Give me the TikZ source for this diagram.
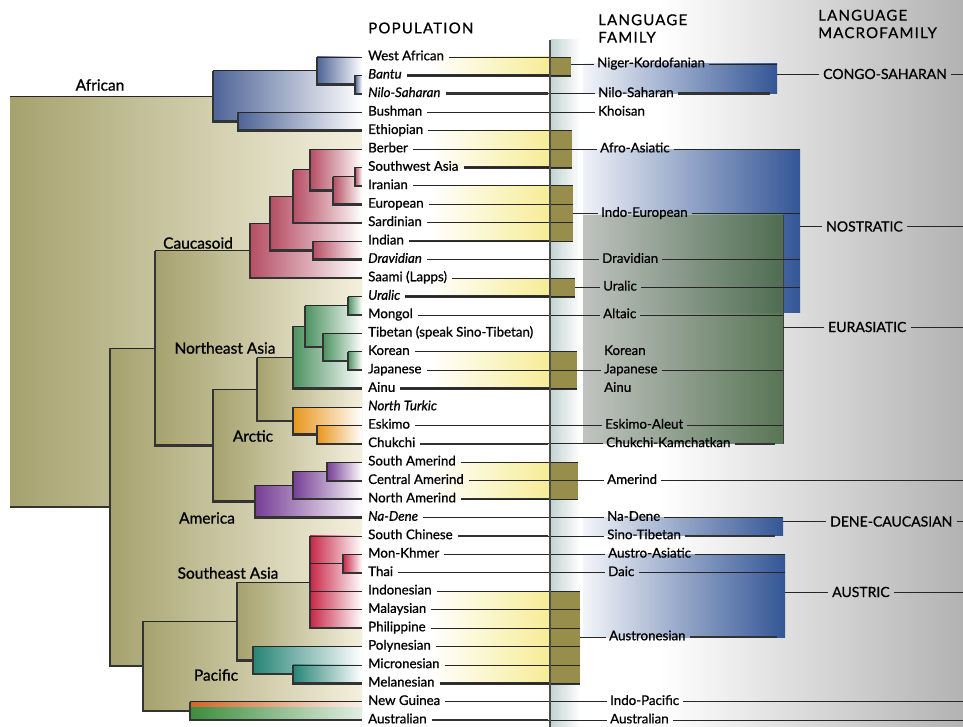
\documentclass[tikz,border=0pt]{standalone}
\usepackage{fontspec}
\setmainfont{Lato}[FakeBold=0.8]
\newfontfamily\hdf{Lato}[LetterSpace=8,FakeBold=0.6]
\newfontfamily\grf{Lato}[FakeBold=1.0]
\usetikzlibrary{calc}
\definecolor{olv}{RGB}{166,162,110}
\definecolor{cream}{RGB}{244,240,222}
\definecolor{afb}{RGB}{78,100,150}
\definecolor{cpk}{RGB}{182,78,100}
\definecolor{neg}{RGB}{76,146,96}
\definecolor{aro}{RGB}{232,150,28}
\definecolor{amp}{RGB}{118,62,148}
\definecolor{sar}{RGB}{200,38,70}
\definecolor{pct}{RGB}{38,132,118}
\definecolor{ngo}{RGB}{210,100,40}
\definecolor{aug}{RGB}{60,140,60}
\definecolor{fy}{RGB}{246,236,150}
\definecolor{fbox}{RGB}{150,142,74}
\definecolor{mblue}{RGB}{52,86,150}
\definecolor{mgreen}{RGB}{100,138,96}
\definecolor{foldc}{RGB}{196,212,210}
\newcommand\trbox[7][white]{%
  \fill[left color=#5, right color=#1] (#2,#3) rectangle (362,#4);
  \draw[thn] (#2,#3) -- (#6,#3);
  \draw[edg] (#2,#3) -- (#2,#4) -- (#7,#4);
}
\begin{document}
\begin{tikzpicture}[x=1pt,y=-1pt,
  thn/.style={line width=0.8pt, black!85},
  thk/.style={line width=2.6pt, black!80},
  edg/.style={line width=2.4pt, black!80},
  pl/.style={anchor=west, inner sep=0pt, text height=9pt, text depth=2.5pt, font=\fontsize{13.3}{15}\selectfont},
  pli/.style={pl, font=\fontsize{13.3}{15}\selectfont\itshape},
  gl/.style={inner sep=0pt, font=\grf\fontsize{15.5}{18}\selectfont},
  ml/.style={anchor=west, inner sep=0pt, text height=10pt, text depth=0pt, font=\fontsize{14}{16}\selectfont},
  hd/.style={anchor=west, align=left, inner sep=0pt, font=\hdf\fontsize{15}{17.5}\selectfont}]
\useasboundingbox (0,0) rectangle (963,727);
% background
\fill[white] (0,0) rectangle (963,727);
\fill[left color=white, right color=black!30] (660,0) rectangle (963,727);
\fill[left color=foldc, right color=white] (551,40) rectangle (580,727);

% ---------- tree ----------
\fill[left color=olv, right color=cream] (10,96.2) rectangle (362,507.0);
\draw[thn] (10,96.2) -- (213,96.2);
\draw[edg] (10,507.0) -- (110,507.0);
% African
\trbox{213}{70.8}{121.5}{afb}{317}{238}
\trbox{317}{57}{84.6}{afb}{362}{355}
\trbox{355}{75.4}{93.8}{afb}{362}{362}
\trbox{238}{112.3}{130.7}{afb}{362}{362}
% non-African
\trbox[cream]{110}{348.0}{666.0}{olv}{155}{143}
\trbox[cream]{155}{250.7}{445.3}{olv}{250}{213}
% Caucasoid
\trbox{250}{223.3}{278.0}{cpk}{270}{362}
\trbox{270}{196.3}{250.4}{cpk}{293}{313}
\trbox{293}{169.8}{222.8}{cpk}{310}{362}
\trbox{310}{149.1}{190.5}{cpk}{362}{333}
\trbox{333}{176.7}{204.4}{cpk}{355}{362}
\trbox{355}{167.5}{185.9}{cpk}{362}{362}
\trbox{313}{241.2}{259.6}{cpk}{362}{362}
% NE Asia / Arctic / America
\trbox[cream]{213}{389.2}{501.4}{olv}{257}{255}
\trbox[cream]{257}{357.5}{420.8}{olv}{293}{293}
\trbox{293}{326.4}{388.6}{neg}{305}{362}
\trbox{305}{305.7}{347.1}{neg}{348}{323}
\trbox{348}{296.5}{314.9}{neg}{362}{362}
\trbox{323}{333.3}{360.9}{neg}{362}{348}
\trbox{348}{351.7}{370.1}{neg}{362}{362}
\trbox{293}{407.0}{434.6}{aro}{362}{317}
\trbox{317}{425.4}{443.8}{aro}{362}{362}
\trbox{255}{485.3}{517.5}{amp}{293}{362}
\trbox{293}{471.4}{499.1}{amp}{327}{362}
\trbox{327}{462.2}{480.7}{amp}{362}{362}
% SE Asia / Pacific / New Guinea
\trbox[cream]{143}{621.1}{710.9}{olv}{237}{190}
\trbox[cream]{237}{582.0}{660.3}{olv}{310}{253}
\trbox{310}{535.9}{628.0}{sar}{362}{362}
\draw[thn] (310,563.5) -- (343,563.5);
\draw[thn] (310,591.2) -- (362,591.2);
\draw[thn] (310,609.6) -- (362,609.6);
\trbox{343}{554.3}{572.8}{sar}{362}{362}
\trbox{253}{646.4}{674.1}{pct}{362}{293}
\trbox{293}{664.9}{683.3}{pct}{362}{362}
\fill[left color=ngo, right color=ngo!10] (190,701.7) rectangle (362,707.5);
\fill[left color=aug, right color=aug!15] (190,707.5) rectangle (362,720.1);
\draw[thn] (190,701.7) -- (362,701.7);
\draw[edg] (190,701.7) -- (190,720.1) -- (362,720.1);

% group labels
\node[gl] (gAf) at (100,85) {African};
\node[gl] (gCa) at (198,243) {Caucasoid};
\node[gl] (gNE) at (225,348) {Northeast Asia};
\node[gl] (gAr) at (253,436) {Arctic};
\node[gl] (gAm) at (207,518) {America};
\node[gl] (gSE) at (228,573) {Southeast Asia};
\node[gl] (gPa) at (216,675) {Pacific};

% ---------- family bars ----------
\foreach \t/\b in {57/75.4, 130.7/167.5, 185.9/241.2, 278.0/296.5, 351.7/388.6, 462.2/499.1, 591.2/683.3}
  \fill[left color=white, right color=fy] (430,\t) rectangle (550,\b);
\coordinate (NK) at (571,64);
\coordinate (AA) at (572,149.1);
\coordinate (IE) at (573,213.6);
\coordinate (UR) at (575,287.3);
\coordinate (KJ) at (577,370.1);
\coordinate (AM) at (578,480.7);
\coordinate (AN) at (580,637);
\coordinate (FOLD) at (548,0);
\coordinate (RE) at (963,0);

% ---------- macro boxes ----------
\fill[left color=mblue!6, right color=mblue] (583,64) rectangle (777,93.8);
\fill[left color=mblue!8, right color=mblue] (583,149.1) rectangle (800,312);
\fill[left color=mgreen!12, right color=mgreen, opacity=0.75] (583,215) rectangle (783,443.8);
\fill[left color=mblue!6, right color=mblue] (583,517.5) rectangle (783,535.9);
\fill[left color=mblue!6, right color=mblue] (583,554.3) rectangle (785,637);
\draw[line width=1pt, black!75] (783,215) -- (783,443.8);
\coordinate (CSr) at (777,74);
\coordinate (NOr) at (800,226.5);
\coordinate (EUr) at (783,327);
\coordinate (DCr) at (783,521.5);
\coordinate (AUr) at (785,592);
\coordinate (CSb) at (770,0);
\coordinate (EUb) at (775,0);
\coordinate (DCb) at (775,0);
\coordinate (AUb) at (777,0);

% ---------- headers ----------
\node[hd] (hPOP) at (368,28) {POPULATION};
\node[hd] (hLF) at (598,28.5) {LANGUAGE\\FAMILY};
\node[hd] (hLM) at (818,24) {LANGUAGE\\MACROFAMILY};

% ---------- population labels ----------
\node[pl] (p0) at (368,57.0) {West African};
\node[pli] (p1) at (368,75.4) {Bantu};
\node[pli] (p2) at (368,93.8) {Nilo-Saharan};
\node[pl] (p3) at (368,112.3) {Bushman};
\node[pl] (p4) at (368,130.7) {Ethiopian};
\node[pl] (p5) at (368,149.1) {Berber};
\node[pl] (p6) at (368,167.5) {Southwest Asia};
\node[pl] (p7) at (368,185.9) {Iranian};
\node[pl] (p8) at (368,204.4) {European};
\node[pl] (p9) at (368,222.8) {Sardinian};
\node[pl] (p10) at (368,241.2) {Indian};
\node[pli] (p11) at (368,259.6) {Dravidian};
\node[pl] (p12) at (368,278.0) {Saami (Lapps)};
\node[pli] (p13) at (368,296.5) {Uralic};
\node[pl] (p14) at (368,314.9) {Mongol};
\node[pl] (p15) at (368,333.3) {Tibetan (speak Sino-Tibetan)};
\node[pl] (p16) at (368,351.7) {Korean};
\node[pl] (p17) at (368,370.1) {Japanese};
\node[pl] (p18) at (368,388.6) {Ainu};
\node[pli] (p19) at (368,407.0) {North Turkic};
\node[pl] (p20) at (368,425.4) {Eskimo};
\node[pl] (p21) at (368,443.8) {Chukchi};
\node[pl] (p22) at (368,462.2) {South Amerind};
\node[pl] (p23) at (368,480.7) {Central Amerind};
\node[pl] (p24) at (368,499.1) {North Amerind};
\node[pli] (p25) at (368,517.5) {Na-Dene};
\node[pl] (p26) at (368,535.9) {South Chinese};
\node[pl] (p27) at (368,554.3) {Mon-Khmer};
\node[pl] (p28) at (368,572.8) {Thai};
\node[pl] (p29) at (368,591.2) {Indonesian};
\node[pl] (p30) at (368,609.6) {Malaysian};
\node[pl] (p31) at (368,628.0) {Philippine};
\node[pl] (p32) at (368,646.4) {Polynesian};
\node[pl] (p33) at (368,664.9) {Micronesian};
\node[pl] (p34) at (368,683.3) {Melanesian};
\node[pl] (p35) at (368,701.7) {New Guinea};
\node[pl] (p36) at (368,720.1) {Australian};

% ---------- family labels ----------
\node[pl] (fNK) at (597,64) {Niger-Kordofanian};
\node[pl] (fNS) at (598,93.8) {Nilo-Saharan};
\node[pl] (fKH) at (598,112.3) {Khoisan};
\node[pl] (fAA) at (600,149.1) {Afro-Asiatic};
\node[pl] (fIE) at (601,213.6) {Indo-European};
\node[pl] (fDR) at (602,259.6) {Dravidian};
\node[pl] (fUR) at (603,287.3) {Uralic};
\node[pl] (fAL) at (603,314.9) {Altaic};
\node[pl] (fKO) at (604,351.7) {Korean};
\node[pl] (fJA) at (604,370.1) {Japanese};
\node[pl] (fAI) at (604,388.6) {Ainu};
\node[pl] (fEA) at (605,425.4) {Eskimo-Aleut};
\node[pl] (fCK) at (606,443.8) {Chukchi-Kamchatkan};
\node[pl] (fAM) at (607,480.7) {Amerind};
\node[pl] (fND) at (607,517.5) {Na-Dene};
\node[pl] (fST) at (607,535.9) {Sino-Tibetan};
\node[pl] (fAS) at (608,554.3) {Austro-Asiatic};
\node[pl] (fDA) at (608,572.8) {Daic};
\node[pl] (fAN) at (609,637) {Austronesian};
\node[pl] (fIP) at (610,701.7) {Indo-Pacific};
\node[pl] (fAUS) at (610,720.1) {Australian};

% ---------- macro labels ----------
\node[ml] (mCS) at (823,74) {CONGO-SAHARAN};
\node[ml] (mNO) at (826,226.5) {NOSTRATIC};
\node[ml] (mEU) at (828,327) {EURASIATIC};
\node[ml] (mDC) at (830,521.5) {DENE-CAUCASIAN};
\node[ml] (mAU) at (832,592) {AUSTRIC};

% ---------- population -> family lines ----------
\foreach \r/\b in {1/NK,6/AA,10/IE,13/UR,18/KJ,24/AM,34/AN}
  \draw[thk] ([xshift=5]p\r.east) -- (p\r.east -| \b);
\fill[fbox] (550,57) rectangle (571,75.4);
\fill[fbox] (550,130.7) rectangle (572,167.5);
\fill[fbox] (550,185.9) rectangle (573,241.2);
\fill[fbox] (550,278.0) rectangle (575,296.5);
\fill[fbox] (550,351.7) rectangle (577,388.6);
\fill[fbox] (550,462.2) rectangle (578,499.1);
\fill[fbox] (550,591.2) rectangle (580,683.3);
\foreach \r/\b in {0/NK,1/NK,4/AA,5/AA,6/AA,7/IE,8/IE,9/IE,10/IE,12/UR,13/UR,16/KJ,17/KJ,18/KJ,22/AM,23/AM,24/AM,29/AN,30/AN,31/AN,32/AN,33/AN,34/AN}
  \draw[thn] ([xshift=5]p\r.east) -- (p\r.east -| \b);
\foreach \b/\f in {NK/NK,AA/AA,IE/IE,UR/UR,KJ/JA,AM/AM,AN/AN}
  \draw[thn] (\b) -- ([xshift=-3]f\f.west);
\foreach \r/\f in {2/NS,3/KH,11/DR,14/AL,20/EA,21/CK,25/ND,26/ST,27/AS,28/DA,35/IP,36/AUS}
  \draw[thn] ([xshift=5]p\r.east) -- ([xshift=-3]f\f.west);
\foreach \r in {2,21,26,36}
  \draw[thk] ([xshift=5]p\r.east) -- (p\r.east -| FOLD);
% fold
\draw[line width=1.6pt, black!70] (550,40) -- (550,727);

% ---------- family -> macro lines ----------
\foreach \f/\c in {NK/CSr,AA/NOr,IE/NOr,DR/NOr,UR/NOr,AL/EUr,JA/EUr,EA/EUr,ND/DCr,AS/AUr,DA/AUr}
  \draw[thn] ([xshift=4]f\f.east) -- (f\f.east -| \c);
\foreach \f/\c in {NS/CSb,CK/EUb,ST/DCb,AN/AUb}
  \draw[thk] ([xshift=4]f\f.east) -- (f\f.east -| \c);
\foreach \f in {AM,IP,AUS}
  \draw[thn] ([xshift=4]f\f.east) -- (f\f.east -| RE);
\foreach \c/\m in {CSr/CS,NOr/NO,EUr/EU,DCr/DC,AUr/AU}{
  \draw[thn] (\c) -- ([xshift=-4]m\m.west);
  \draw[thn] ([xshift=4]m\m.east) -- (m\m.east -| RE);
}
\end{tikzpicture}
\end{document}
